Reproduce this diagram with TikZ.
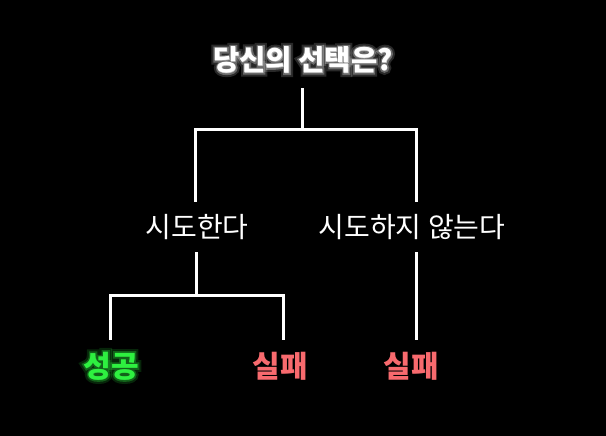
\documentclass[tikz,border=0pt]{standalone}
\usepackage{fontspec}
\setmainfont{Noto Sans CJK KR}
\newfontfamily\glowA[FakeBold=26]{Noto Sans CJK KR}
\newfontfamily\glowB[FakeBold=12]{Noto Sans CJK KR}
\usetikzlibrary{calc}
\definecolor{bg}{HTML}{000000}
\definecolor{okgreen}{HTML}{2EF040}
\definecolor{badred}{HTML}{F86A6E}
\tikzset{
  conn/.style={draw=white, line width=3pt, line cap=butt, line join=miter},
  title/.style={font=\fontsize{28.5}{32}\selectfont\bfseries, text=white, inner sep=0pt, minimum height=56pt},
  choice/.style={font=\fontsize{28}{32}\selectfont, text=white, inner sep=0pt, minimum height=50pt},
  result/.style={font=\fontsize{30}{34}\selectfont\bfseries, inner sep=0pt, minimum height=52pt},
}
\begin{document}
\begin{tikzpicture}[x=1pt,y=-1pt]
\fill[bg] (0,0) rectangle (606,436);
\useasboundingbox (0,0) rectangle (606,436);
% glows
\node[title, opacity=0.16] (tg) at (303,60) {\glowA\bfseries 당신의 선택은?};
\node[title, opacity=0.30] (th) at (303,60) {\glowB\bfseries 당신의 선택은?};
\node[result, text=okgreen, opacity=0.16] (sg) at (111,366) {\glowA\bfseries 성공};
\node[result, text=okgreen, opacity=0.30] (sh) at (111,366) {\glowB\bfseries 성공};
% nodes
\node[title] (t) at (303,60) {당신의 선택은?};
\node[choice] (a1) at (197,227) {시도한다};
\node[choice] (a2) at (412,227) {시도하지 않는다};
\node[result, text=okgreen] (s) at (111,366) {성공};
\node[result, text=badred] (f1) at (280,366) {실패};
\node[result, text=badred] (f2) at (411,366) {실패};
% junctions
\coordinate (j1) at (302,130);
\coordinate (l1) at (195,130);
\coordinate (r1) at (416,130);
\coordinate (j2) at (196,295);
\coordinate (l2) at (110,295);
\coordinate (r2) at (283,295);
% connectors
\draw[conn] (t.south -| j1) -- (j1);
\draw[conn] (l1 |- a1.north) -- (l1) -- (r1) -- (r1 |- a2.north);
\draw[conn] (j2 |- a1.south) -- (j2);
\draw[conn] (l2 |- s.north) -- (l2) -- (r2) -- (r2 |- f1.north);
\draw[conn] (r1 |- a2.south) -- (r1 |- f2.north);
\end{tikzpicture}
\end{document}
